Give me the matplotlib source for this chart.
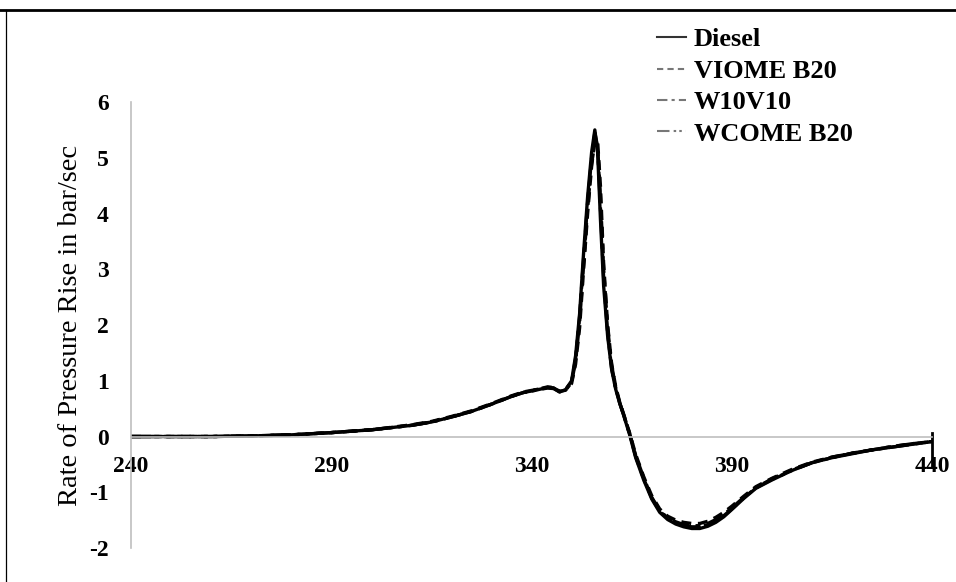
import matplotlib
matplotlib.use("Agg")
import matplotlib.pyplot as plt
from matplotlib.lines import Line2D

# crank angle (deg)
crank = [240, 260, 270, 280, 290, 300, 310, 315, 320, 325, 330, 335, 338, 341, 344,
         345.5, 347, 348.5, 350, 351, 352, 353, 354, 355, 355.8, 356.5, 357.2, 358,
         359, 360, 361, 362, 363, 364.5, 366, 368, 370, 372, 374, 376, 378, 380, 382,
         384, 386, 388, 390, 393, 396, 400, 405, 410, 415, 420, 425, 430, 435, 440]

diesel = [0, 0, 0.01, 0.03, 0.07, 0.12, 0.2, 0.26, 0.35, 0.45, 0.58, 0.72, 0.79, 0.83, 0.88,
          0.87, 0.8, 0.84, 1.0, 1.45, 2.2, 3.3, 4.3, 5.1, 5.5, 5.1, 3.9, 2.7,
          1.8, 1.2, 0.85, 0.6, 0.38, 0.03, -0.38, -0.78, -1.12, -1.36, -1.49, -1.57, -1.62, -1.65, -1.65,
          -1.61, -1.54, -1.44, -1.31, -1.11, -0.93, -0.78, -0.61, -0.47, -0.38, -0.31, -0.24, -0.19, -0.14, -0.09]

viome_b20 = [0, 0, 0.01, 0.03, 0.07, 0.12, 0.21, 0.27, 0.36, 0.46, 0.59, 0.73, 0.8, 0.84, 0.89,
             0.88, 0.81, 0.83, 0.95, 1.3, 1.95, 3.0, 4.0, 4.85, 5.3, 5.3, 4.5, 3.1,
             2.0, 1.3, 0.9, 0.62, 0.4, 0.06, -0.32, -0.72, -1.06, -1.3, -1.43, -1.5, -1.54, -1.56, -1.56,
             -1.52, -1.45, -1.36, -1.25, -1.07, -0.9, -0.75, -0.59, -0.46, -0.37, -0.3, -0.24, -0.18, -0.13, -0.09]

w10v10 = [0, 0, 0.01, 0.03, 0.07, 0.12, 0.2, 0.26, 0.35, 0.45, 0.58, 0.72, 0.79, 0.84, 0.88,
          0.87, 0.81, 0.83, 0.97, 1.35, 2.05, 3.1, 4.1, 4.9, 5.25, 5.2, 4.3, 3.0,
          1.95, 1.28, 0.88, 0.6, 0.39, 0.05, -0.34, -0.74, -1.09, -1.33, -1.46, -1.53, -1.58, -1.6, -1.6,
          -1.56, -1.49, -1.4, -1.28, -1.09, -0.92, -0.76, -0.6, -0.47, -0.37, -0.3, -0.24, -0.18, -0.13, -0.09]

wcome_b20 = [0, 0, 0.01, 0.03, 0.07, 0.12, 0.2, 0.26, 0.35, 0.45, 0.58, 0.72, 0.79, 0.83, 0.87,
             0.86, 0.8, 0.84, 0.99, 1.4, 2.15, 3.2, 4.2, 5.0, 5.45, 5.2, 4.1, 2.85,
             1.85, 1.22, 0.86, 0.61, 0.39, 0.04, -0.36, -0.76, -1.1, -1.34, -1.47, -1.55, -1.6, -1.62, -1.62,
             -1.58, -1.51, -1.42, -1.3, -1.1, -0.92, -0.77, -0.61, -0.47, -0.38, -0.3, -0.24, -0.19, -0.14, -0.09]

series_names = ["Diesel", "VIOME B20", "W10V10", "WCOME B20"]
x_ticks = [240, 290, 340, 390, 440]
y_ticks = [-2, -1, 0, 1, 2, 3, 4, 5, 6]
end_bar = [0.07, -0.55]

styles = ["-", (0, (3, 2)), (0, (5, 2, 1.5, 2)), (0, (6, 2, 1.2, 1.5, 1.2, 2))]
serif = "Liberation Serif"

fig = plt.figure(figsize=(9.56, 5.82), dpi=100)
ax = fig.add_axes([0.137, 0.0584, 0.838, 0.7663])

for s in ["top", "right"]:
    ax.spines[s].set_visible(False)
ax.spines["bottom"].set_position(("data", 0))
ax.spines["bottom"].set_color("#bfbfbf")
ax.spines["left"].set_color("#bfbfbf")
ax.spines["bottom"].set_linewidth(1.2)
ax.spines["left"].set_linewidth(1.2)
ax.patch.set_alpha(0)

for vals, ls in zip([diesel, viome_b20, w10v10, wcome_b20], styles):
    ax.plot(crank, vals, color="black", lw=2.4, linestyle=ls)

ax.plot([440, 440], end_bar, color="black", lw=2.0, clip_on=False)

ax.set_xlim(240, 440)
ax.set_ylim(-2, 6)
ax.set_xticks(x_ticks)
ax.set_yticks(y_ticks)
ax.set_xticklabels([str(t) for t in x_ticks], fontfamily=serif, fontweight="bold", fontsize=17)
ax.set_yticklabels([str(t) for t in y_ticks], fontfamily=serif, fontweight="bold", fontsize=17)
ax.tick_params(axis="x", length=0, pad=14)
ax.tick_params(axis="y", length=0, pad=16)

ax.set_ylabel("Rate of Pressure Rise in bar/sec", fontfamily=serif, fontsize=20.5)
ax.yaxis.set_label_coords(-0.06, 0.5)

handles = [Line2D([], [], color="#333333" if i == 0 else "#777777", lw=1.5, linestyle=ls)
           for i, ls in enumerate(styles)]
leg = ax.legend(handles, series_names, loc="upper left", bbox_to_anchor=(0.687, 0.952),
                bbox_transform=fig.transFigure, frameon=False, borderpad=0, borderaxespad=0,
                handlelength=1.1, handletextpad=0.3, labelspacing=0.3,
                prop={"family": serif, "weight": "bold", "size": 19})

# page border lines
fig.add_artist(Line2D([0, 1], [1 - 10 / 582, 1 - 10 / 582], transform=fig.transFigure,
                      color="black", lw=2))
fig.add_artist(Line2D([5.5 / 956, 5.5 / 956], [0, 1 - 10 / 582], transform=fig.transFigure,
                      color="black", lw=0.9))

fig.savefig("out.png", dpi=100)
